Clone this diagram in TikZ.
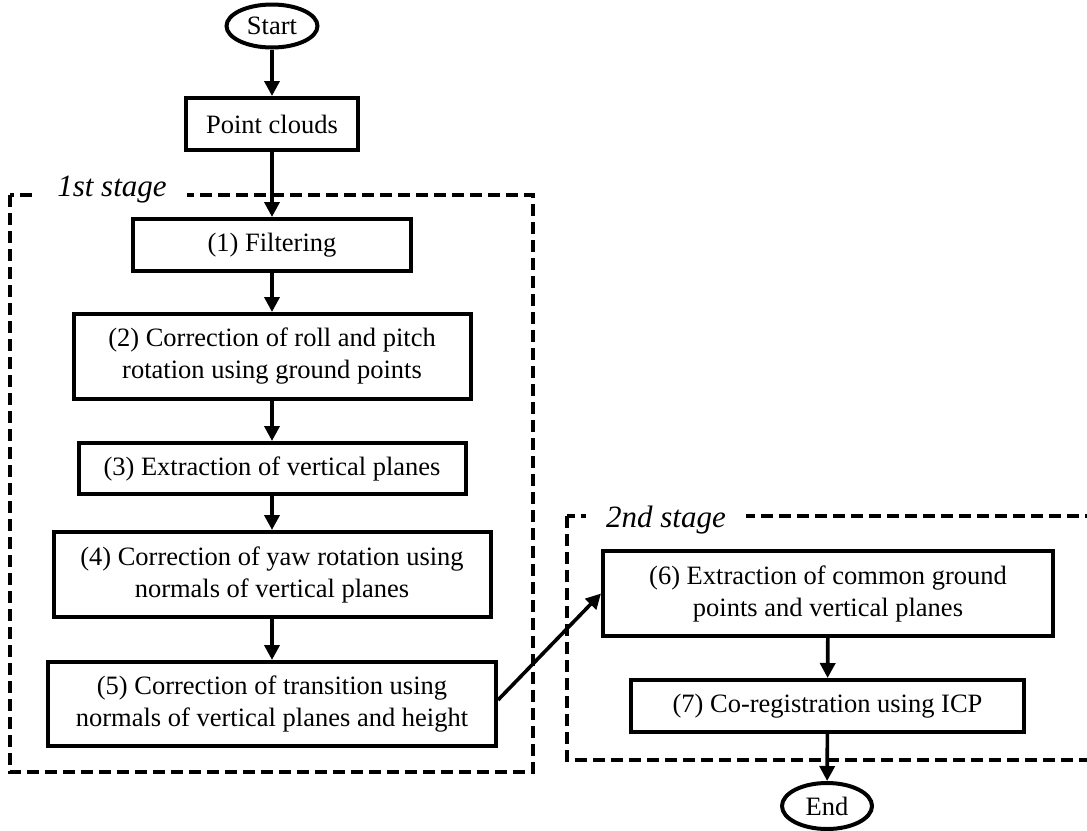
\documentclass[tikz,border=0pt]{standalone}
\usepackage{fontspec}
\setmainfont{Liberation Serif}
\usetikzlibrary{arrows.meta,shapes.geometric}
\begin{document}
\begin{tikzpicture}[x=1pt,y=-1pt,
  box/.style={draw,line width=4pt,align=center,inner sep=0pt,font=\fontsize{26.5}{32}\selectfont},
  term/.style={draw,ellipse,line width=4pt,inner sep=0pt,font=\fontsize{26.5}{32}\selectfont},
  flow/.style={line width=3.6pt,-{Triangle[length=15pt,width=15pt]}},
  stage/.style={line width=3.6pt,dash pattern=on 12pt off 6pt},
  stagelabel/.style={fill=white,font=\fontsize{31}{36}\selectfont\itshape,inner xsep=20pt,inner ysep=2pt,anchor=base}]
\useasboundingbox (0,0) rectangle (1087,830);
\clip (0,0) rectangle (1087,830);
\fill[white] (0,0) rectangle (1087,830);
% stage frames
\draw[stage] (10,195) rectangle (533,772);
\draw[stage] (567,516) rectangle (1110,760);
\node[stagelabel] (l1) at (112,196) {1st stage};
\node[stagelabel] (l2) at (666,527) {2nd stage};
% nodes
\node[term,minimum width=91pt,minimum height=43pt] (start) at (272,26) {Start};
\node[box,minimum width=172pt,minimum height=52pt] (pc) at (272,124) {Point clouds};
\node[box,minimum width=278pt,minimum height=52pt] (s1) at (272,245) {(1) Filtering};
\node[box,minimum width=397pt,minimum height=85pt] (s2) at (272,356.5) {(2) Correction of roll and pitch\\rotation using ground points};
\node[box,minimum width=387pt,minimum height=51pt] (s3) at (272,468.5) {(3) Extraction of vertical planes};
\node[box,minimum width=437pt,minimum height=85pt] (s4) at (272,574.5) {(4) Correction of yaw rotation using\\normals of vertical planes};
\node[box,minimum width=448pt,minimum height=84pt] (s5) at (272,704) {(5) Correction of transition using\\normals of vertical planes and height};
\node[box,minimum width=450pt,minimum height=85pt] (s6) at (828,593.5) {(6) Extraction of common ground\\points and vertical planes};
\node[box,minimum width=393pt,minimum height=52pt] (s7) at (827.5,706) {(7) Co-registration using ICP};
\node[term,minimum width=90pt,minimum height=46pt] (end) at (827,806) {End};
% connectors
\draw[flow] (start) -- (pc);
\draw[flow] (pc) -- (s1);
\draw[flow] (s1) -- (s2);
\draw[flow] (s2) -- (s3);
\draw[flow] (s3) -- (s4);
\draw[flow] (s4) -- (s5);
\draw[flow] ([yshift=4pt]s5.east) -- (s6.west);
\draw[flow] (s6) -- (s7);
\draw[flow] (s7) -- (end);
\end{tikzpicture}
\end{document}
